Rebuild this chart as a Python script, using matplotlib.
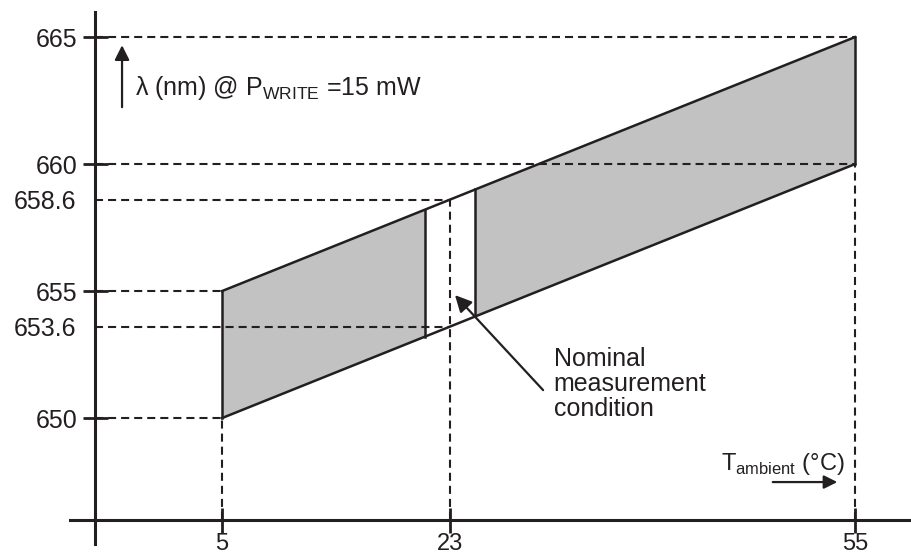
import matplotlib
matplotlib.use("Agg")
import matplotlib.pyplot as plt
import numpy as np

# band of wavelength vs ambient temperature
t_ends = [5, 55]
lam_low = [650, 660]
lam_high = [655, 665]
gap = [21, 25]            # white slot around the nominal point
t_nom = 23
lam_nom = [653.6, 658.6]

xticks = [5, 23, 55]
yticks = [650, 655, 660, 665]
yticks_extra = [653.6, 658.6]

ink = "#231f20"
grey = "#c2c2c2"

plt.rcParams["font.family"] = ["Liberation Sans", "DejaVu Sans"]
plt.rcParams["mathtext.fontset"] = "custom"
plt.rcParams["mathtext.rm"] = "Liberation Sans"
plt.rcParams["lines.scale_dashes"] = False

fig = plt.figure(figsize=(9.12, 5.58), dpi=100)
ax = fig.add_axes([0, 0, 1, 1])
ax.set_xlim(-12.54, 59.5)
ax.set_ylim(644.49, 666.46)

x_axis_y = 646
y_axis_x = -5

def low(t):
    return np.interp(t, t_ends, lam_low)

def high(t):
    return np.interp(t, t_ends, lam_high)

# grey parts of the band
for a, b in [(t_ends[0], gap[0]), (gap[1], t_ends[1])]:
    tt = np.array([a, b])
    ax.fill_between(tt, low(tt), high(tt), color=grey, lw=0, zorder=1)

# band outline
ax.plot(t_ends, lam_low, color=ink, lw=1.8, zorder=3)
ax.plot(t_ends, lam_high, color=ink, lw=1.8, zorder=3)
for t in [t_ends[0], gap[0], gap[1], t_ends[1]]:
    ax.plot([t, t], [low(t), high(t)], color=ink, lw=1.8, zorder=3)

# dashed guide lines
dash = (0, (5.8, 3.6))
kw = dict(color=ink, lw=1.5, linestyle=dash, zorder=2)
ax.plot([y_axis_x, t_ends[1]], [lam_high[1]] * 2, **kw)
ax.plot([y_axis_x, t_ends[1]], [lam_low[1]] * 2, **kw)
ax.plot([y_axis_x, t_nom], [lam_nom[1]] * 2, **kw)
ax.plot([y_axis_x, t_nom], [lam_nom[0]] * 2, **kw)
ax.plot([y_axis_x, t_ends[0]], [lam_high[0]] * 2, **kw)
ax.plot([y_axis_x, t_ends[0]], [lam_low[0]] * 2, **kw)
ax.plot([t_ends[0]] * 2, [x_axis_y, lam_low[0]], **kw)
ax.plot([t_nom] * 2, [x_axis_y, lam_nom[1]], **kw)
ax.plot([t_ends[1]] * 2, [x_axis_y, lam_low[1]], **kw)

# axes crossing near the lower left
for s in ["top", "right"]:
    ax.spines[s].set_visible(False)
ax.spines["left"].set_position(("data", y_axis_x))
ax.spines["bottom"].set_position(("data", x_axis_y))
ax.spines["left"].set_bounds(645.05, 665.98)
ax.spines["bottom"].set_bounds(-7.0, 59.5)
for s in ["left", "bottom"]:
    ax.spines[s].set_linewidth(2.2)
    ax.spines[s].set_color(ink)
    ax.spines[s].set_zorder(4)

ax.set_xticks(xticks)
ax.set_xticklabels([str(v) for v in xticks])
ax.set_yticks(yticks)
ax.set_yticklabels([str(v) for v in yticks])
ax.set_yticks(yticks_extra, minor=True)
ax.set_yticklabels([str(v) for v in yticks_extra], minor=True)
ax.tick_params(which="major", direction="inout", length=18, width=2,
               color=ink, labelsize=18, labelcolor=ink, pad=4)
ax.tick_params(axis="x", which="major", labelsize=17, pad=0.5)
ax.tick_params(axis="y", which="minor", length=0, labelsize=18,
               labelcolor=ink, pad=13.5)
ax.tick_params(axis="x", which="minor", length=0)

# y-axis quantity with arrow
ax.annotate("", xy=(-2.9, 664.68), xytext=(-2.9, 662.24),
            arrowprops=dict(arrowstyle="-|>", color=ink, lw=1.6,
                            mutation_scale=22, shrinkA=0, shrinkB=0))
ax.text(-1.87, 662.72, r"λ (nm) @ P$_{\mathregular{WRITE}}$ =15 mW",
        fontsize=18, color=ink, va="baseline", ha="left")

# x-axis quantity with arrow
ax.text(54.2, 647.95, r"T$_{\mathregular{ambient}}$ (°C)",
        fontsize=17, color=ink, va="baseline", ha="right")
ax.annotate("", xy=(53.6, 647.48), xytext=(48.5, 647.48),
            arrowprops=dict(arrowstyle="-|>", color=ink, lw=1.6,
                            mutation_scale=20, shrinkA=0, shrinkB=0))

# nominal condition callout
ax.text(31.2, 652.8, "Nominal\nmeasurement\ncondition", fontsize=18,
        color=ink, ha="left", va="top", linespacing=1.05)
ax.annotate("", xy=(23.4, 654.84), xytext=(30.36, 651.1),
            arrowprops=dict(arrowstyle="-|>", color=ink, lw=1.6,
                            mutation_scale=25, shrinkA=0, shrinkB=0))

fig.savefig("out.png", dpi=100)
